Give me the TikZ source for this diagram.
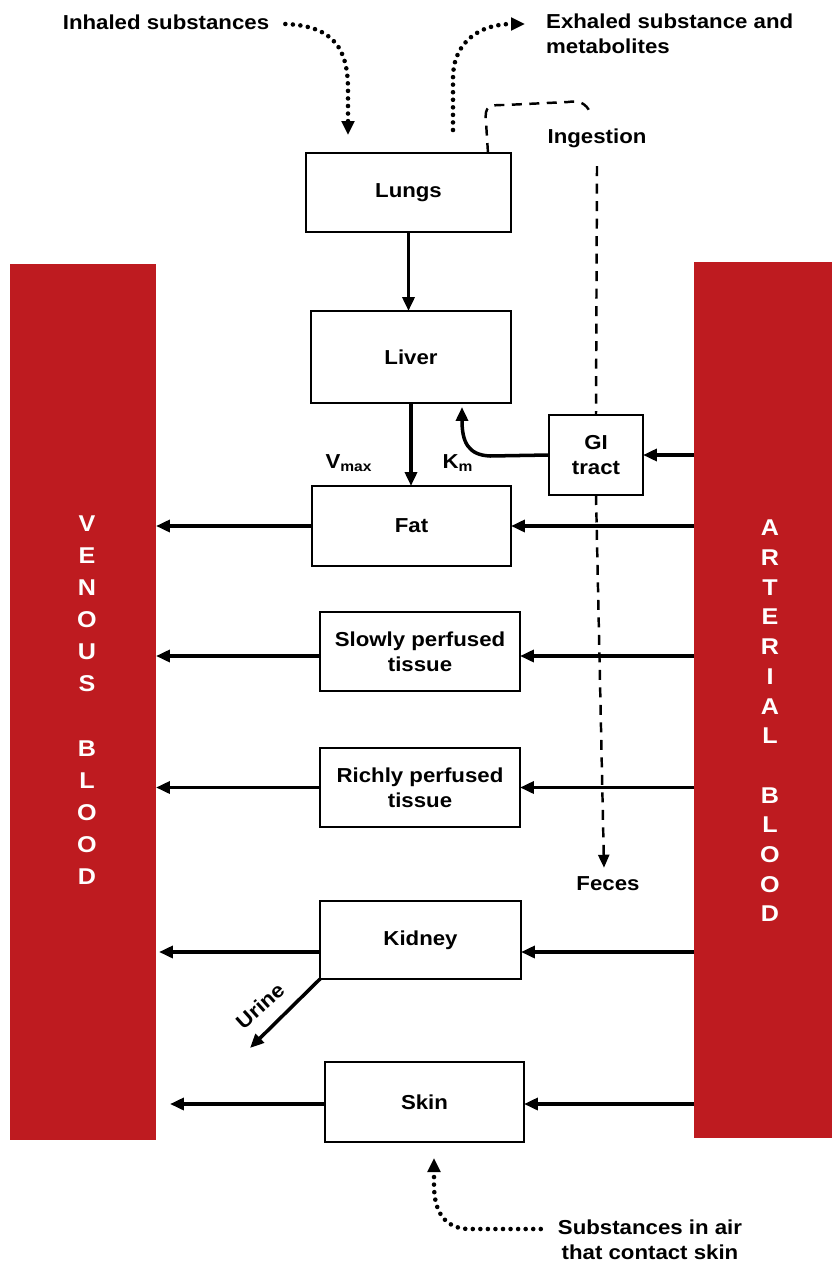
\documentclass[tikz,border=0pt]{standalone}
\usepackage{fontspec}
\setmainfont[FakeStretch=1.1]{Liberation Sans}
\usetikzlibrary{arrows.meta,calc}
\definecolor{bloodred}{RGB}{190,27,32}
\begin{document}
\begin{tikzpicture}[x=0.02cm,y=-0.02cm,
 every node/.style={font=\bfseries\fontsize{11.5}{14}\selectfont},
 organ/.style={draw, line width=1.1pt, inner sep=0pt, outer sep=0pt, fill=white, align=center},
 bar/.style={fill=bloodred, inner sep=0pt, outer sep=0pt},
 flow/.style={line width=2pt, -{Triangle[length=0.28cm,width=0.24cm]}},
 dots/.style={line width=2.6pt, line cap=round, dash pattern=on 0pt off 4.3pt, -{Triangle[length=0.28cm,width=0.25cm]}},
 ingest/.style={line width=1.4pt, dash pattern=on 0.2cm off 0.15cm},
]
\useasboundingbox (0,0) rectangle (832,1264);

% blood bars
\node[bar, minimum width=2.92cm, minimum height=17.52cm] (ven) at (83,702) {};
\node[bar, minimum width=2.76cm, minimum height=17.52cm] (art) at (763,700) {};
\node[text=white, align=center, font=\bfseries\fontsize{13}{18.3}\selectfont] (ventxt) at (87,700)
  {V\\E\\N\\O\\U\\S\\ \\B\\L\\O\\O\\D};
\node[text=white, align=center, font=\bfseries\fontsize{13}{16.9}\selectfont] (arttxt) at (770,721)
  {A\\R\\T\\E\\R\\I\\A\\L\\ \\B\\L\\O\\O\\D};

% dashed ingestion path labels
\node (ingtxt) at (597,138) {Ingestion};
\node (feces) at (608,884) {Feces};

% organs
\node[organ, minimum width=4.1cm, minimum height=1.58cm] (lungs) at (408.5,192.5) {Lungs};
\node[organ, minimum width=4.0cm, minimum height=1.84cm] (liver) at (411,357) {Liver};
\node[organ, minimum width=1.88cm, minimum height=1.6cm] (gi) at (596,455) {GI\\tract};
\node[organ, minimum width=3.98cm, minimum height=1.6cm] (fat) at (411.5,526) {Fat};
\node[organ, minimum width=4.0cm, minimum height=1.58cm] (slow) at (420,651.5) {Slowly perfused\\tissue};
\node[organ, minimum width=4.0cm, minimum height=1.58cm] (rich) at (420,787.5) {Richly perfused\\tissue};
\node[organ, minimum width=4.02cm, minimum height=1.56cm] (kidney) at (420.5,940) {Kidney};
\node[organ, minimum width=3.98cm, minimum height=1.6cm] (skin) at (424.5,1102) {Skin};

\draw[ingest] ([xshift=-0.46cm]lungs.north east) -- (486,122) .. controls (484,105) and (490,105) .. (505,105)
  -- (568,102) .. controls (580,100) and (586,104) .. (590,112);
\draw[ingest] ([yshift=-0.25cm]ingtxt.south) -- (gi.north);
\draw[ingest, -{Triangle[length=0.26cm,width=0.22cm]}] (gi.south) -- ([xshift=-0.08cm,yshift=0.06cm]feces.north);

% texts
\node (vmax) at (349,463) {V\textsubscript{max}};
\node (km) at (458,463) {K\textsubscript{m}};
\node (inh) at (166,22) {Inhaled substances};
\node[anchor=west, align=left] (exh) at (540,34) {Exhaled substance and\\metabolites};
\node[align=center, font=\bfseries\fontsize{11.5}{14.2}\selectfont] (air) at (650,1240) {Substances in air\\that contact skin};
\node[rotate=42, inner sep=0pt] (urine) at (260,1006) {Urine};

% main flow arrows
\draw[flow] (lungs.south) -- (liver.north -| lungs.south);
\draw[flow] (liver.south) -- (fat.north -| liver.south);
\draw[flow] (gi.west) -- (490,456) .. controls (468,455) and (462,442) .. ([xshift=1.02cm,yshift=-0.08cm]liver.south);
\draw[flow] (art.west |- gi.east) -- (gi.east);

\draw[flow] (art.west |- fat.east) -- (fat.east);
\draw[flow] (fat.west) -- (ven.east |- fat.west);
\draw[flow] ([yshift=-0.09cm]art.west |- slow.east) -- ([yshift=-0.09cm]slow.east);
\draw[flow] ([yshift=-0.09cm]slow.west) -- ([yshift=-0.09cm]ven.east |- slow.west);
\draw[flow] (art.west |- rich.east) -- (rich.east);
\draw[flow] (rich.west) -- (ven.east |- rich.west);
\draw[flow] ([yshift=-0.24cm]art.west |- kidney.east) -- ([yshift=-0.24cm]kidney.east);
\draw[flow] ([yshift=-0.24cm]kidney.west) -- ([xshift=0.06cm,yshift=-0.24cm]ven.east |- kidney.west);
\draw[flow] ([yshift=-0.04cm]art.west |- skin.east) -- ([yshift=-0.04cm]skin.east);
\draw[flow] ([yshift=-0.04cm]skin.west) -- ([xshift=0.28cm,yshift=-0.04cm]ven.east |- skin.west);

\coordinate (urineend) at (250,1048);
\draw[flow] (kidney.south west) -- (urineend);

% dotted arrows
\coordinate (inhend) at (348,135);
\draw[dots] ([xshift=0.2cm,yshift=-0.04cm]inh.east) .. controls (335,26) and (348,50) .. (348,90) -- (inhend);
\coordinate (exhstart) at (453,130);
\draw[dots] (exhstart) -- (453,78) .. controls (453,42) and (480,24) .. ([xshift=-0.3cm,yshift=0.2cm]exh.west);
\coordinate (skinend) at (434,1158);
\draw[dots] ([xshift=-0.22cm,yshift=0.22cm]air.west) -- (470,1229) .. controls (445,1229) and (434,1212) .. (434,1185) -- (skinend);
\end{tikzpicture}
\end{document}
